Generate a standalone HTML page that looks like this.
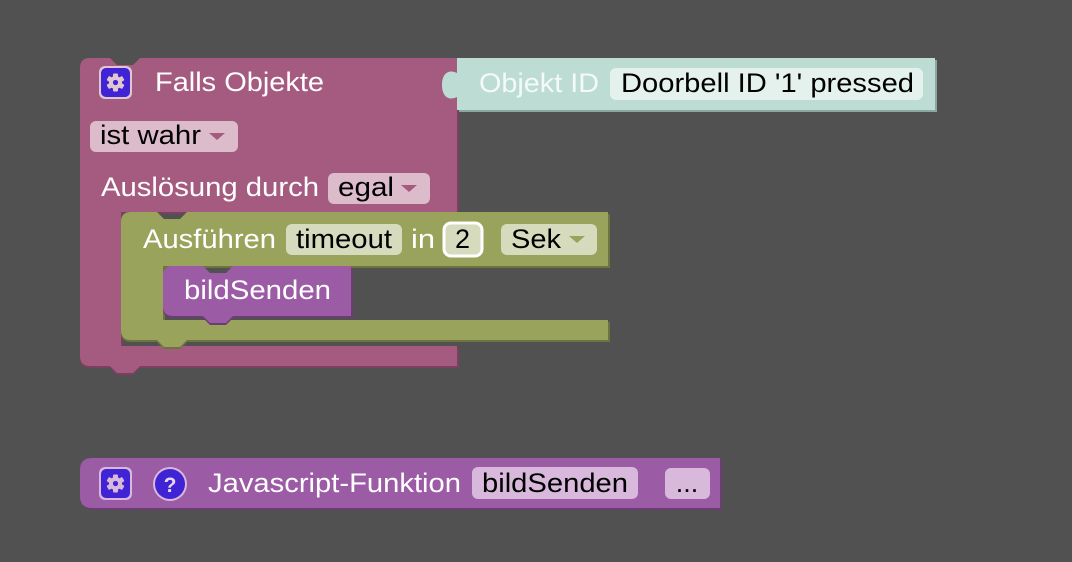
<!DOCTYPE html>
<html><head><meta charset="utf-8"><style>
html,body{margin:0;padding:0;background:#515151;}
svg{display:block}
text{font-family:"Liberation Sans",Arial,sans-serif;font-size:27px;}
.w{fill:#fff}.b{fill:#000}
</style></head><body>
<svg width="1072" height="562" viewBox="0 0 1072 562">
<rect width="1072" height="562" fill="#515151"/>
<path d="M90,60 h20 l7,7 h16 l7,-7 H459 V214 H123 V348 H459 V368 H140 l-7,7 h-16 l-7,-7 H90 q-10,0 -10,-10 V70 Z" fill="#7d3f5e"/>
<path d="M90,58 h20 l7,7 h16 l7,-7 H457 V212 H121 V346 H457 V366 H140 l-7,7 h-16 l-7,-7 H90 q-10,0 -10,-10 V68 q0,-10 10,-10 Z" fill="#a55b80"/>
<path d="M459,60 H937 V112 H459 Z" fill="#8aa8a0"/>
<path d="M457,58 H935 V110 H457 V97 c-8,4 -15,0 -15,-12 c0,-12 7,-16 15,-12 Z" fill="#bcdcd4"/>
<path d="M131,214 h26 l7,7 h16 l7,-7 H610 V268 H165 V322 H610 V342 H187 l-7,7 h-16 l-7,-7 H131 q-10,0 -10,-10 V224 Z" fill="#6e7440"/>
<path d="M131,212 h26 l7,7 h16 l7,-7 H608 V266 H163 V320 H608 V340 H187 l-7,7 h-16 l-7,-7 H131 q-10,0 -10,-10 V222 q0,-10 10,-10 Z" fill="#9aa35b"/>
<path d="M173,268 h30 l7,7 h16 l7,-7 H353 V318 H233 l-7,7 h-16 l-7,-7 H173 q-10,0 -10,-10 V278 Z" fill="#6b3d73"/>
<path d="M173,266 h30 l7,7 h16 l7,-7 H351 V316 H233 l-7,7 h-16 l-7,-7 H173 q-10,0 -10,-10 V276 q0,-10 10,-10 Z" fill="#9b5ba5"/>
<path d="M92,460 H722 V510 H92 q-10,0 -10,-10 V470 Z" fill="#6b3d73"/>
<path d="M92,458 H720 V508 H92 q-12,0 -12,-12 V470 q0,-12 12,-12 Z" fill="#9b5ba5"/>

<rect x="99" y="66" width="33" height="33" rx="6" fill="#e0c6d3"/>
<rect x="101" y="68" width="29" height="29" rx="5" fill="#3f23d4"/>
<g transform="translate(115.5,82.5)" fill="#e0c6d3">
<circle r="6.5"/>
<rect x="-2.5" y="-9" width="5" height="18" rx="1"/><rect x="-2.5" y="-9" width="5" height="18" rx="1" transform="rotate(60)"/><rect x="-2.5" y="-9" width="5" height="18" rx="1" transform="rotate(120)"/>
<circle r="2.6" fill="#3f23d4"/>
</g>
<text x="155" y="91" class="w" textLength="169" lengthAdjust="spacingAndGlyphs">Falls Objekte</text>
<text x="479" y="92" fill="#f4faf8" textLength="120" lengthAdjust="spacingAndGlyphs">Objekt ID</text>
<rect x="610" y="68" width="313" height="32" rx="6" fill="#e4f1ed"/>
<text x="621" y="92" class="b" textLength="293" lengthAdjust="spacingAndGlyphs">Doorbell ID '1' pressed</text>

<rect x="90" y="121" width="148" height="31" rx="6" fill="#dcbccb"/>
<text x="100" y="144" class="b" textLength="101" lengthAdjust="spacingAndGlyphs">ist wahr</text>
<path d="M209,133 h16 l-8,7 Z" fill="#a55b80"/>
<text x="101" y="196" class="w" textLength="218" lengthAdjust="spacingAndGlyphs">Auslösung durch</text>
<rect x="328" y="173" width="102" height="31" rx="6" fill="#dcbccb"/>
<text x="338" y="196" class="b" textLength="56" lengthAdjust="spacingAndGlyphs">egal</text>
<path d="M401,185 h16 l-8,7 Z" fill="#a55b80"/>

<text x="143" y="248" class="w" textLength="133" lengthAdjust="spacingAndGlyphs">Ausführen</text>
<rect x="286" y="224" width="116" height="31" rx="6" fill="#d6dbbd"/>
<text x="296" y="248" class="b" textLength="96" lengthAdjust="spacingAndGlyphs">timeout</text>
<text x="411" y="248" class="w" textLength="24" lengthAdjust="spacingAndGlyphs">in</text>
<rect x="444" y="223" width="38" height="33" rx="7" fill="#d6dbbd" stroke="#fff" stroke-width="3"/>
<text x="455" y="248" class="b">2</text>
<rect x="501" y="224" width="96" height="31" rx="6" fill="#d6dbbd"/>
<text x="511" y="248" class="b" textLength="50" lengthAdjust="spacingAndGlyphs">Sek</text>
<path d="M569,236 h16 l-8,7 Z" fill="#9aa35b"/>

<text x="184" y="299" class="w" textLength="147" lengthAdjust="spacingAndGlyphs">bildSenden</text>

<rect x="99" y="467" width="33" height="33" rx="6" fill="#d8b9dc"/>
<rect x="101" y="469" width="29" height="29" rx="5" fill="#3f23d4"/>
<g transform="translate(115.5,483.5)" fill="#d8b9dc">
<circle r="6.5"/>
<rect x="-2.5" y="-9" width="5" height="18" rx="1"/><rect x="-2.5" y="-9" width="5" height="18" rx="1" transform="rotate(60)"/><rect x="-2.5" y="-9" width="5" height="18" rx="1" transform="rotate(120)"/>
<circle r="2.6" fill="#3f23d4"/>
</g>
<circle cx="170" cy="484" r="17" fill="#d8b9dc"/>
<circle cx="170" cy="484" r="15" fill="#3f23d4"/>
<text x="170" y="492" text-anchor="middle" style="font-size:21px;font-weight:bold" fill="#e8d8ec">?</text>
<text x="208" y="492" class="w" textLength="253" lengthAdjust="spacingAndGlyphs">Javascript-Funktion</text>
<rect x="472" y="467" width="166" height="32" rx="6" fill="#d8b9dc"/>
<text x="482" y="492" class="b" textLength="146" lengthAdjust="spacingAndGlyphs">bildSenden</text>
<rect x="665" y="468" width="45" height="31" rx="6" fill="#d8b9dc"/>
<text x="687" y="492" class="b" text-anchor="middle">...</text>
</svg>
</body></html>
